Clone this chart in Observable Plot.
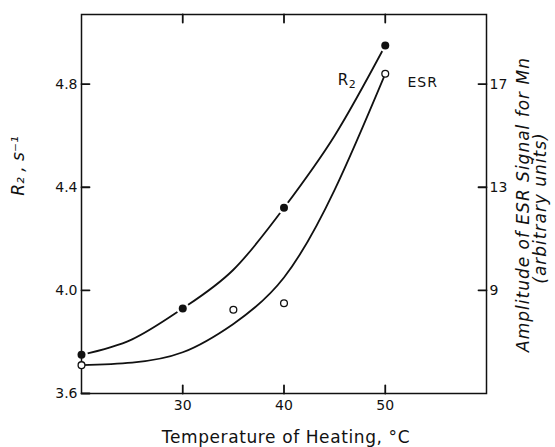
<!DOCTYPE html>
<html>
<head>
<meta charset="utf-8">
<script src="https://cdn.jsdelivr.net/npm/d3@7"></script>
<script src="https://cdn.jsdelivr.net/npm/@observablehq/plot@0.6"></script>
<style>
  html, body { margin: 0; padding: 0; background: #fff; }
</style>
</head>
<body>
<div id="chart"></div>
<script>
// Transverse relaxation rate R2 (s⁻¹) versus heating temperature (°C)
const r2Temps = [20, 30, 40, 50];
const r2Values = [3.75, 3.93, 4.32, 4.95];

// Amplitude of the Mn ESR signal (arbitrary units)
const esrTemps = [20, 35, 40, 50];
const esrValues = [6.1, 8.25, 8.5, 17.4];

// Smooth trend curves drawn through each series
const r2CurveTemps = [20, 25, 30, 35, 40, 45, 50];
const r2CurveValues = [3.75, 3.81, 3.93, 4.08, 4.32, 4.6, 4.95];
const esrCurveTemps = [20, 25, 30, 35, 40, 45, 50];
const esrCurveValues = [6.1, 6.2, 6.6, 7.7, 9.5, 12.9, 17.4];

// Axis ticks
const xTicks = [30, 40, 50];
const r2Ticks = [3.6, 4.0, 4.4, 4.8];
const esrTicks = [9, 13, 17];

// Titles and series labels
const xTitle = "Temperature of Heating, °C";
const r2Title = "R₂ , s⁻¹";
const esrTitle = "Amplitude of ESR Signal for Mn";
const esrSubtitle = "(arbitrary units)";

// The ESR scale shares the plot with R2: 9 units ↔ 4.0 s⁻¹, 4 units per 0.4 s⁻¹
const esrToR2 = e => 4 + (e - 9) / 10;
const r2ToEsr = r => Math.round((r - 4) * 10 + 9);

const zip = (xs, ys) => xs.map((t, i) => ({t, v: ys[i]}));
const r2Points = zip(r2Temps, r2Values);
const esrPoints = zip(esrTemps, esrValues.map(esrToR2));
const r2Curve = zip(r2CurveTemps, r2CurveValues);
const esrCurve = zip(esrCurveTemps, esrCurveValues.map(esrToR2));
const esrTicksOnR2 = esrTicks.map(esrToR2);

const ink = "#111";
const font = "'DejaVu Sans', sans-serif";

// plot area and domains; tick length is given in pixels and converted to data units
const W = 555, H = 447;
const mLeft = 81, mRight = 69, mTop = 14, mBottom = 54;
const xDomain = [20, 60], yDomain = [3.6, 5.07];
const innerW = W - mLeft - mRight, innerH = H - mTop - mBottom;
const tickLen = 8;
const tickDx = tickLen * (xDomain[1] - xDomain[0]) / innerW;
const tickDy = tickLen * (yDomain[1] - yDomain[0]) / innerH;

// short inward tick segments on all four sides of the frame, one group (k) per tick
const seg = (k, t0, v0, t1, v1) => [{k, t: t0, v: v0}, {k, t: t1, v: v1}];
const tickSegments = [
  ...xTicks.flatMap(x => seg(`b${x}`, x, yDomain[0], x, yDomain[0] + tickDy)),
  ...xTicks.flatMap(x => seg(`t${x}`, x, yDomain[1], x, yDomain[1] - tickDy)),
  ...r2Ticks.flatMap(y => seg(`l${y}`, xDomain[0], y, xDomain[0] + tickDx, y)),
  ...esrTicksOnR2.flatMap(y => seg(`r${y}`, xDomain[1], y, xDomain[1] - tickDx, y))
];

const chart = Plot.plot({
  width: W,
  height: H,
  marginLeft: mLeft,
  marginRight: mRight,
  marginTop: mTop,
  marginBottom: mBottom,
  x: {domain: xDomain, label: null},
  y: {domain: yDomain, label: null},
  style: {fontFamily: font, fontSize: "14px", color: ink, background: "#fff"},
  marks: [
    // trend curves
    Plot.line(r2Curve, {x: "t", y: "v", curve: "natural", stroke: ink, strokeWidth: 1.8}),
    Plot.line(esrCurve, {x: "t", y: "v", curve: "natural", stroke: ink, strokeWidth: 1.8}),
    // small gap in the curve around each filled point
    Plot.dot(r2Points, {x: "t", y: "v", r: 6.5, fill: "#fff"}),

    // frame
    Plot.frame({stroke: ink, strokeWidth: 1.5}),

    // tick labels
    Plot.axisX(xTicks, {anchor: "bottom", tickSize: 0, tickPadding: 7, label: null, fill: ink}),
    Plot.axisY(r2Ticks, {anchor: "left", tickSize: 0, tickPadding: 4, label: null,
      tickFormat: d3.format(".1f"), fill: ink}),
    Plot.axisY(esrTicksOnR2, {anchor: "right", tickSize: 0, tickPadding: 3, label: null,
      tickFormat: d => String(r2ToEsr(d)), fill: ink}),

    // inward ticks
    Plot.line(tickSegments, {x: "t", y: "v", z: "k", stroke: ink, strokeWidth: 1.8}),

    // data points
    Plot.dot(r2Points, {x: "t", y: "v", r: 4, fill: ink}),
    Plot.dot(esrPoints, {x: "t", y: "v", r: 3.4, fill: "#fff", stroke: ink, strokeWidth: 1.3}),

    // series labels
    Plot.text(["R"], {text: d => d, x: 45.3, y: 4.815, textAnchor: "start", fontSize: 15, fill: ink}),
    Plot.text(["2"], {text: d => d, x: 45.3, y: 4.815, dx: 11, dy: 4, textAnchor: "start", fontSize: 11, fill: ink}),
    Plot.text(["ESR"], {text: d => d, x: 52.2, y: 4.808, textAnchor: "start", fontSize: 14, fill: ink}),

    // axis titles
    Plot.text([xTitle], {text: d => d, frameAnchor: "bottom", dx: 2, dy: 44,
      textAnchor: "middle", lineAnchor: "middle", fontSize: 17, fill: ink}),
    Plot.text([r2Title], {text: d => d, frameAnchor: "left", dx: -63, dy: -38, rotate: -90,
      textAnchor: "middle", lineAnchor: "middle", fontSize: 17, fontStyle: "italic", fill: ink}),
    Plot.text([esrTitle], {text: d => d, frameAnchor: "right", dx: 37, dy: 0.5,
      rotate: -90, textAnchor: "middle", lineAnchor: "middle", fontSize: 17, fontStyle: "italic", fill: ink}),
    Plot.text([esrSubtitle], {text: d => d, frameAnchor: "right", dx: 54, dy: 4,
      rotate: -90, textAnchor: "middle", lineAnchor: "middle", fontSize: 17, fontStyle: "italic", fill: ink})
  ]
});

// slightly open letter spacing on the titles and the ESR label
const spacing = new Map([[xTitle, "0.6px"], [esrTitle, "1px"], [esrSubtitle, "1px"], ["ESR", "1px"]]);
d3.select(chart).selectAll("text").each(function () {
  const s = spacing.get(this.textContent);
  if (s) this.style.letterSpacing = s;
});

document.getElementById("chart").append(chart);
</script>
</body>
</html>
